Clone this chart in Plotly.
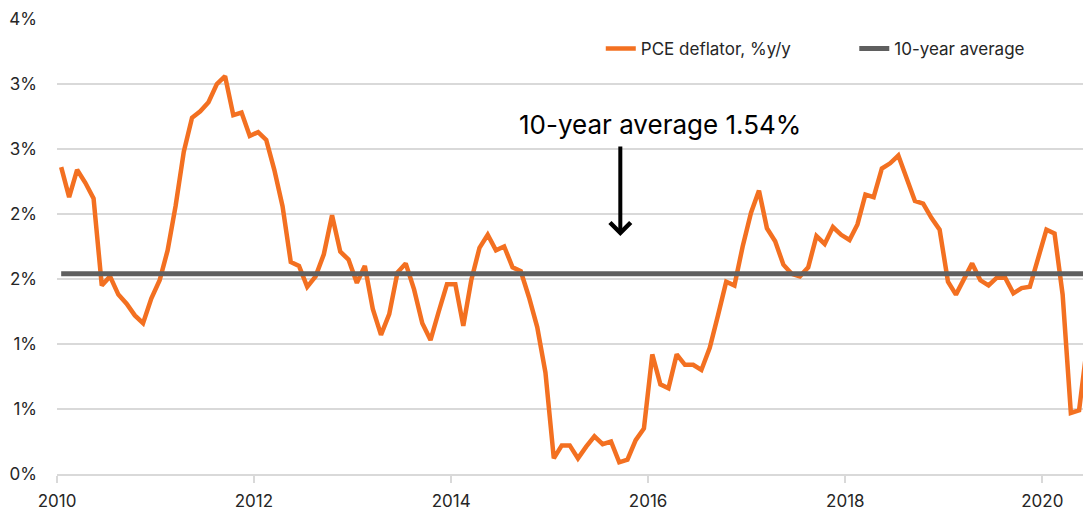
import pandas as pd
import plotly.graph_objects as go

# ---- data ----
pce_2010 = [2.36, 2.13, 2.34, 2.24, 2.12, 1.45, 1.52, 1.38, 1.31, 1.22, 1.16, 1.35]
pce_2011 = [1.49, 1.72, 2.06, 2.48, 2.74, 2.79, 2.86, 3.00, 3.06, 2.76, 2.78, 2.60]
pce_2012 = [2.63, 2.57, 2.34, 2.06, 1.63, 1.60, 1.44, 1.52, 1.69, 1.99, 1.71, 1.65]
pce_2013 = [1.47, 1.60, 1.27, 1.07, 1.23, 1.55, 1.62, 1.42, 1.16, 1.03, 1.25, 1.46]
pce_2014 = [1.46, 1.14, 1.49, 1.74, 1.84, 1.72, 1.75, 1.59, 1.56, 1.36, 1.13, 0.78]
pce_2015 = [0.12, 0.22, 0.22, 0.12, 0.21, 0.29, 0.23, 0.25, 0.09, 0.11, 0.26, 0.35]
pce_2016 = [0.92, 0.69, 0.66, 0.92, 0.84, 0.84, 0.80, 0.97, 1.22, 1.48, 1.45, 1.75]
pce_2017 = [2.01, 2.18, 1.89, 1.79, 1.61, 1.54, 1.52, 1.59, 1.83, 1.77, 1.90, 1.84]
pce_2018 = [1.80, 1.92, 2.15, 2.13, 2.35, 2.39, 2.45, 2.28, 2.10, 2.08, 1.97, 1.88]
pce_2019 = [1.48, 1.38, 1.50, 1.62, 1.49, 1.45, 1.51, 1.51, 1.39, 1.43, 1.44, 1.67]
pce_2020 = [1.88, 1.85, 1.38, 0.47, 0.49, 1.00]

ten_year_average = 1.54

y_tick_values = [0, 0.5, 1.0, 1.5, 2.0, 2.5, 3.0, 3.5]
y_tick_labels = ["0%", "1%", "1%", "2%", "2%", "3%", "3%", "4%"]

series_name = "PCE deflator, %y/y"
average_name = "10-year average"
annotation_text = "10-year average 1.54%"

pce = (pce_2010 + pce_2011 + pce_2012 + pce_2013 + pce_2014 + pce_2015
       + pce_2016 + pce_2017 + pce_2018 + pce_2019 + pce_2020)
months = pd.date_range("2010-01-01", periods=len(pce), freq="MS")
average = [ten_year_average] * len(months)

FONT = "Inter"
ORANGE = "#F37021"
GREY = "#5F5F5F"
GRID = "#D9D9D9"
TEXT = "#262626"

fig = go.Figure()
fig.add_trace(go.Scatter(
    x=months, y=pce, name=series_name, mode="lines",
    xperiod="M1", xperiodalignment="middle",
    line=dict(color=ORANGE, width=4.5),
))
fig.add_trace(go.Scatter(
    x=months, y=average, name=average_name, mode="lines",
    xperiod="M1", xperiodalignment="middle",
    line=dict(color=GREY, width=5),
))

fig.add_annotation(
    x="2016-02-14", y=2.685, xref="x", yref="y",
    text=annotation_text, showarrow=False,
    font=dict(family=FONT, size=26, color="#000000"),
    xanchor="center", yanchor="middle",
)
fig.add_annotation(
    x="2015-09-20", y=1.83, xref="x", yref="y",
    ax="2015-09-20", ay=2.53, axref="x", ayref="y",
    text="", showarrow=True, arrowhead=4, arrowsize=1,
    arrowwidth=4, arrowcolor="#000000",
)

fig.update_layout(
    width=1083, height=510,
    margin=dict(l=57, r=0, t=19, b=36, autoexpand=False),
    paper_bgcolor="white", plot_bgcolor="white",
    font=dict(family=FONT, size=17, color=TEXT),
    showlegend=True,
    legend=dict(
        orientation="h", x=0.530, y=0.934, xanchor="left", yanchor="middle",
        font=dict(family=FONT, size=17, color=TEXT),
        bgcolor="rgba(0,0,0,0)", entrywidth=208.5, entrywidthmode="pixels",
        traceorder="normal",
    ),
    xaxis=dict(
        type="date", range=["2010-01-01", "2020-05-31"],
        dtick="M24", tick0="2010-01-01", tickformat="%Y",
        ticks="outside", ticklen=7, tickwidth=1.5, tickcolor=GRID,
        showgrid=False, showline=True, linecolor=GRID, linewidth=1.5,
        tickfont=dict(family=FONT, size=17, color=TEXT),
        ticklabelstandoff=4, automargin=False,
    ),
    yaxis=dict(
        range=[0, 3.5], tickvals=y_tick_values, ticktext=y_tick_labels,
        showgrid=True, gridcolor=GRID, gridwidth=1.5,
        zeroline=False, showline=False, ticks="",
        tickfont=dict(family=FONT, size=17, color=TEXT),
        ticklabelstandoff=19, automargin=False,
    ),
)

# remove the browser's default 8 px page margin so the figure fills the window
fig.write_html(
    "out.html",
    config={"displayModeBar": False},
    post_script="document.body.style.margin='0';document.body.style.overflow='hidden';",
)
